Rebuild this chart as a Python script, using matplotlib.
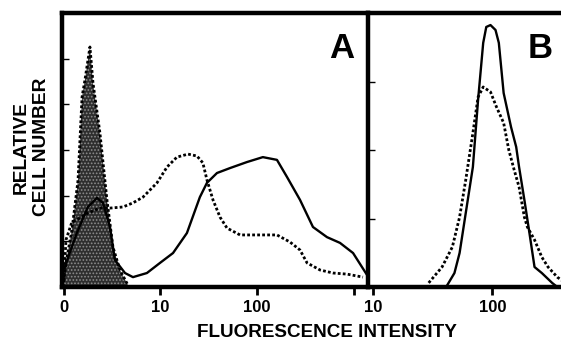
import matplotlib
matplotlib.use("Agg")
import matplotlib.pyplot as plt
import matplotlib.ticker as mticker

plt.rcParams['font.family'] = ['Liberation Sans', 'DejaVu Sans']
plt.rcParams['font.weight'] = 'bold'
plt.rcParams['hatch.linewidth'] = 0.8

# ---------------- Panel A data (fluorescence intensity, relative cell number) ----------------
a_fill_x = [0.98, 1.05, 1.21, 1.40, 1.54, 1.65, 1.86, 2.00, 2.36, 2.79, 3.22, 3.80, 4.60]
a_fill_y = [0.0, 0.088, 0.208, 0.39, 0.693, 0.755, 0.876, 0.745, 0.562, 0.318, 0.146, 0.062, 0.007]

a_solid_x = [1.02, 1.36, 1.77, 2.2, 2.54, 3.0, 3.37, 4.29, 5.19, 7.24, 9.9, 13.5, 18.8, 25.6,
             30.3, 38.5, 52.5, 78.7, 115, 161, 205, 279, 380, 531, 724, 989, 1380]
a_solid_y = [0.073, 0.197, 0.292, 0.325, 0.307, 0.219, 0.099, 0.051, 0.036, 0.051, 0.088, 0.124,
             0.197, 0.328, 0.380, 0.416, 0.434, 0.456, 0.474, 0.464, 0.401, 0.318, 0.219, 0.182,
             0.161, 0.124, 0.044]

a_dot_x = [1.0, 1.05, 1.21, 1.47, 1.77, 2.36, 3.0, 4.08, 5.19, 6.59, 9.2, 11.7, 14.8, 19.3, 23.9,
           27.5, 30.3, 35.0, 41.4, 48.9, 66.7, 107, 161, 220, 279, 330, 450, 614, 857, 1253]
a_dot_y = [0.026, 0.172, 0.237, 0.252, 0.270, 0.288, 0.288, 0.292, 0.307, 0.328, 0.380, 0.438,
           0.474, 0.485, 0.478, 0.453, 0.391, 0.318, 0.255, 0.215, 0.190, 0.190, 0.190, 0.164,
           0.135, 0.088, 0.062, 0.051, 0.047, 0.036]

# ---------------- Panel B data ----------------
b_solid_x = [41.8, 48.0, 53.0, 59.7, 68.5, 75.7, 83.6, 88.7, 96.2, 106, 113, 124, 143, 158, 167,
             185, 204, 225, 259, 316, 349]
b_solid_y = [0.007, 0.051, 0.124, 0.270, 0.438, 0.682, 0.891, 0.949, 0.956, 0.938, 0.891, 0.708,
             0.584, 0.511, 0.438, 0.318, 0.197, 0.073, 0.051, 0.015, 0.0]

b_dot_x = [29.2, 37.8, 46.1, 53.0, 59.7, 68.5, 75.7, 83.6, 96.2, 108, 124, 137, 152, 167, 185,
           196, 225, 259, 292, 349, 409]
b_dot_y = [0.015, 0.073, 0.146, 0.255, 0.391, 0.562, 0.693, 0.730, 0.712, 0.657, 0.599, 0.500,
           0.427, 0.365, 0.255, 0.219, 0.172, 0.109, 0.073, 0.036, 0.015]

a_ticks = [1, 10, 100, 1000]
a_ticklabels = ['0', '10', '100', '']
b_ticks = [10, 100]
b_ticklabels = ['10', '100']

fig = plt.figure(figsize=(5.61, 3.44), dpi=100)
W, H = 561.0, 344.0
bottom = 1 - 287 / H
top = 1 - 13 / H
axA = fig.add_axes([62 / W, bottom, (368 - 62) / W, top - bottom])
axB = fig.add_axes([368 / W, bottom, (W - 368) / W + 0.01, top - bottom])

spw = 3.2
for ax in (axA, axB):
    ax.set_xscale('log')
    ax.set_ylim(0, 1)
    for s in ax.spines.values():
        s.set_linewidth(spw)
    ax.tick_params(axis='x', which='major', direction='out', length=6, width=2,
                   labelsize=12, pad=3)
    ax.tick_params(axis='x', which='minor', length=0)
    ax.tick_params(axis='y', which='major', direction='in', length=5, width=1,
                   labelleft=False, right=False)
    ax.xaxis.set_minor_locator(mticker.NullLocator())

axA.spines['right'].set_visible(False)
axB.spines['right'].set_visible(False)

# Panel A
axA.set_xlim(10 ** -0.02, 10 ** 3.15)
axA.fill_between(a_fill_x, a_fill_y, 0, facecolor='#2e2e2e', edgecolor='#8c8c8c',
                 hatch='.....', linewidth=0, zorder=1)
axA.plot(a_fill_x, a_fill_y, color='black', lw=2.0, ls=(0, (1, 0.8)), zorder=2)
axA.plot(a_dot_x, a_dot_y, color='black', lw=2.0, ls=(0, (1, 0.8)), zorder=3)
axA.plot(a_solid_x, a_solid_y, color='black', lw=1.7, zorder=3)
axA.set_xticks(a_ticks)
axA.set_xticklabels(a_ticklabels, fontweight='bold')
axA.set_yticks([1 / 6, 2 / 6, 3 / 6, 4 / 6, 5 / 6])
axA.text(0.955, 0.93, 'A', transform=axA.transAxes, ha='right', va='top',
         fontsize=25, fontweight='bold')

# Panel B
axB.set_xlim(10 ** 0.957, 10 ** 2.621)
axB.plot(b_dot_x, b_dot_y, color='black', lw=2.0, ls=(0, (1, 0.8)), zorder=3)
axB.plot(b_solid_x, b_solid_y, color='black', lw=1.7, zorder=3)
axB.set_xticks(b_ticks)
axB.set_xticklabels(b_ticklabels, fontweight='bold')
axB.set_yticks([0.25, 0.5, 0.75])
axB.text(0.93, 0.93, 'B', transform=axB.transAxes, ha='right', va='top',
         fontsize=25, fontweight='bold')

fig.text(327 / W, 3 / H, 'FLUORESCENCE INTENSITY', ha='center', va='bottom',
         fontsize=13.6, fontweight='bold')
fig.text(31 / W, 1 - 147 / H, 'RELATIVE\nCELL NUMBER', ha='center', va='center',
         rotation=90, fontsize=13.8, fontweight='bold', linespacing=1.25)

fig.savefig('out.png', dpi=100)
